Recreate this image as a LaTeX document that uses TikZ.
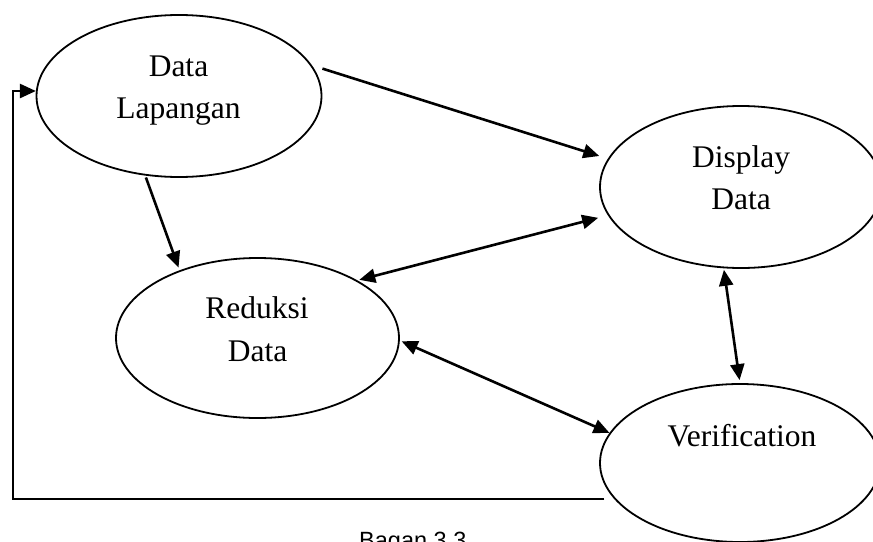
\documentclass[tikz,border=0pt]{standalone}
\usepackage{fontspec}
\setmainfont{Liberation Serif}
\newfontfamily\capfont{Liberation Sans}
\usetikzlibrary{arrows.meta,shapes.geometric}
\begin{document}
\begin{tikzpicture}[x=1pt,y=-1pt,
  oval/.style={ellipse,draw,line width=1.8pt,inner sep=0pt},
  arr/.style={line width=2.6pt,-{Triangle[length=16pt,width=14pt]}},
  darr/.style={line width=2.6pt,{Triangle[length=16pt,width=14pt]}-{Triangle[length=16pt,width=14pt]}},
  lbl/.style={anchor=base,inner sep=0pt,font=\fontsize{31.5}{38}\selectfont},
  captxt/.style={anchor=base west,inner sep=0pt,font=\capfont\fontsize{23.5}{28}\selectfont}]
\useasboundingbox (0,0) rectangle (873,541);
\clip (0,0) rectangle (873,541);
\fill[white] (0,0) rectangle (873,541);
% ellipses
\node[oval,minimum width=285pt,minimum height=162pt] (dl) at (179,96) {};
\node[oval,minimum width=282pt,minimum height=162pt] (dd) at (741,187) {};
\node[oval,minimum width=283pt,minimum height=160pt] (rd) at (257.5,338) {};
\node[oval,minimum width=280pt,minimum height=158pt] (vf) at (740,463) {};
% texts
\node[lbl] (dlt1) at (178.5,76) {Data};
\node[lbl] (dlt2) at (178.5,118) {Lapangan};
\node[lbl] (ddt1) at (741,167) {Display};
\node[lbl] (ddt2) at (741,209) {Data};
\node[lbl] (rdt1) at (257,318) {Reduksi};
\node[lbl] (rdt2) at (257.5,361.5) {Data};
\node[lbl] (vft1) at (742,446) {Verification};
% connectors
\draw[arr,shorten <=11pt,shorten >=9pt] (dl.13) -- (dd.168);
\draw[darr,shorten <=2pt,shorten >=10pt] (rd.30) -- (dd.192);
\draw[darr,shorten <=2pt] (rd.359) -- (vf.167);
\draw[darr,shorten <=1.5pt,shorten >=3pt] (dd.258) -- (vf.90);
\draw[arr,shorten <=2pt,shorten >=3pt] (dl.247) -- (rd.139);
\draw[arr] ([xshift=-10pt]vf.196) -| ([xshift=-23pt]dl.178) -- (dl.178);
% caption
\node[captxt] (cap) at (359,548) {Bagan 3.3};
\end{tikzpicture}
\end{document}
